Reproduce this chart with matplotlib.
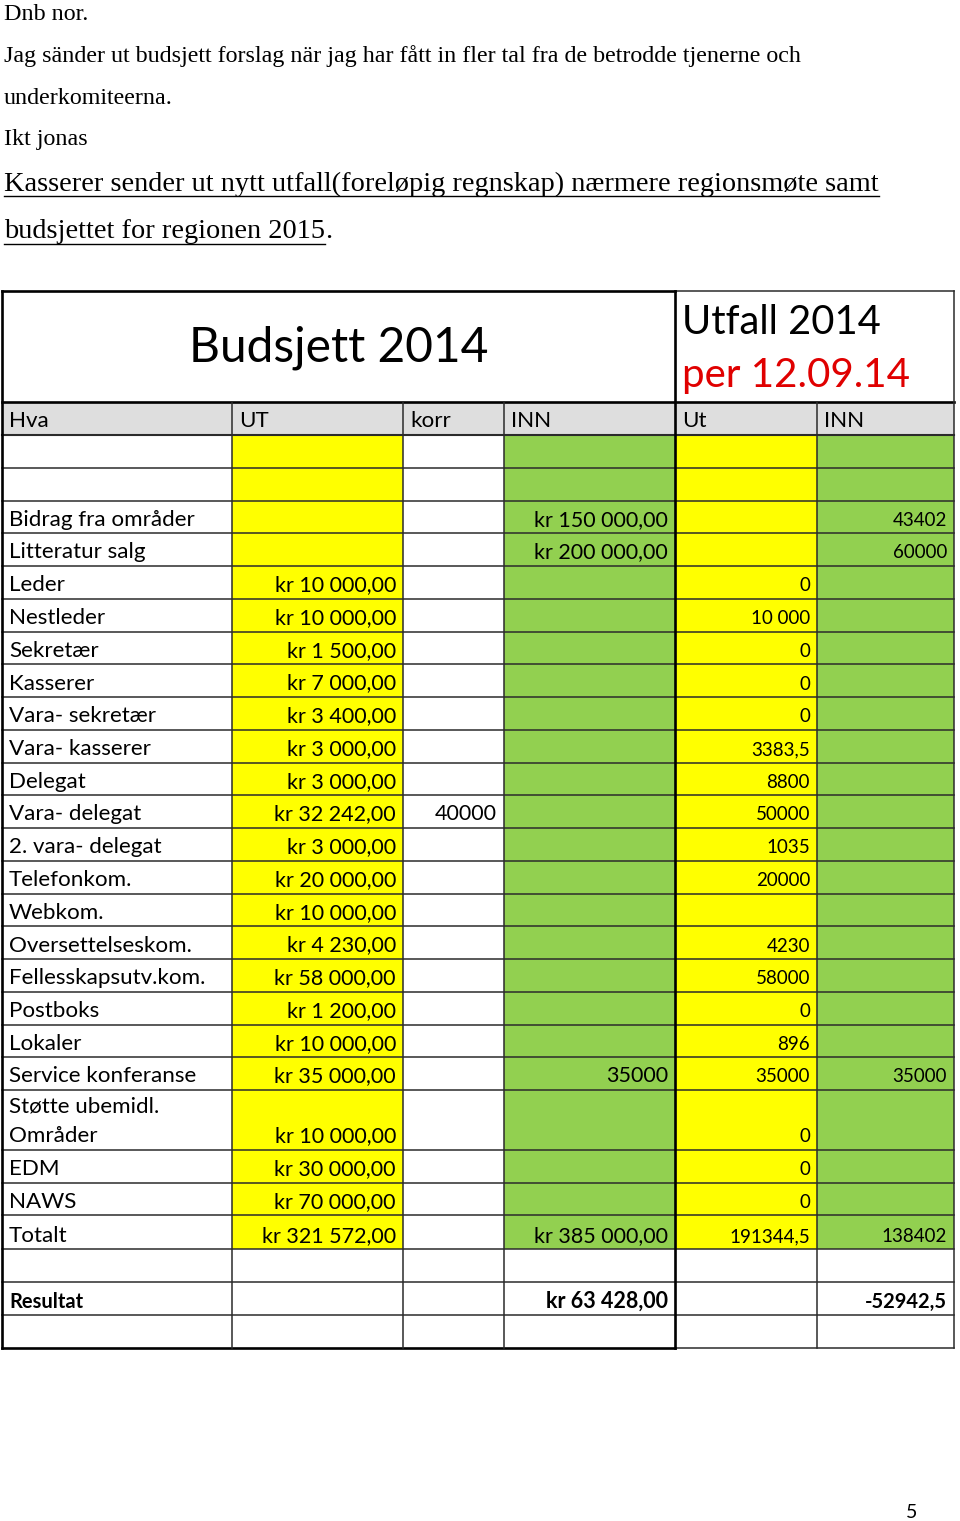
import matplotlib
matplotlib.use("Agg")
import matplotlib.pyplot as plt
from matplotlib.patches import Rectangle

# letter text above the table
intro = ["Dnb nor.",
         "Jag sänder ut budsjett forslag när jag har fått in fler tal fra de betrodde tjenerne och",
         "underkomiteerna.",
         "Ikt jonas"]
underlined = ["Kasserer sender ut nytt utfall(foreløpig regnskap) nærmere regionsmøte samt",
              "budsjettet for regionen 2015"]

title_left = "Budsjett 2014"
title_right = "Utfall 2014"
title_date = "per 12.09.14"
headers = ["Hva", "UT", "korr", "INN", "Ut", "INN"]

hva = ["", "", "Bidrag fra områder", "Litteratur salg", "Leder", "Nestleder", "Sekretær",
       "Kasserer", "Vara- sekretær", "Vara- kasserer", "Delegat", "Vara- delegat",
       "2. vara- delegat", "Telefonkom.", "Webkom.", "Oversettelseskom.",
       "Fellesskapsutv.kom.", "Postboks", "Lokaler", "Service konferanse",
       "Støtte ubemidl.\nOmråder", "EDM", "NAWS", "Totalt"]
ut = ["", "", "", "", "kr 10 000,00", "kr 10 000,00", "kr 1 500,00", "kr 7 000,00",
      "kr 3 400,00", "kr 3 000,00", "kr 3 000,00", "kr 32 242,00", "kr 3 000,00",
      "kr 20 000,00", "kr 10 000,00", "kr 4 230,00", "kr 58 000,00", "kr 1 200,00",
      "kr 10 000,00", "kr 35 000,00", "kr 10 000,00", "kr 30 000,00", "kr 70 000,00",
      "kr 321 572,00"]
korr = [""] * 11 + ["40000"] + [""] * 12
inn = ["", "", "kr 150 000,00", "kr 200 000,00"] + [""] * 15 + ["35000", "", "", "",
                                                               "kr 385 000,00"]
utfall_ut = ["", "", "", "", "0", "10 000", "0", "0", "0", "3383,5", "8800", "50000",
             "1035", "20000", "", "4230", "58000", "0", "896", "35000", "0", "0", "0",
             "191344,5"]
utfall_inn = ["", "", "43402", "60000"] + [""] * 15 + ["35000", "", "", "", "138402"]
resultat_label = "Resultat"
resultat_inn = "kr 63 428,00"
resultat_utfall = "-52942,5"
page_no = "5"

YELLOW = "#ffff00"
GREEN = "#92d050"
GREY = "#dedede"
LINE = "#2b2b2b"
SANS = "Lato"
SERIF = "Liberation Serif"

fig = plt.figure(figsize=(9.6, 15.21), dpi=100)
ax = fig.add_axes([0, 0, 1, 1])
ax.set_xlim(0, 960)
ax.set_ylim(1521, 0)
ax.axis("off")

# letter lines
ys = [15, 56, 99, 140]
for t, y in zip(intro, ys):
    ax.text(4, y, t, fontsize=17.3, family=SERIF, va="center", ha="left")

renderer = fig.canvas.get_renderer()
for t, y, tail in zip(underlined, [184, 232], ["", "."]):
    txt = ax.text(4, y, t, fontsize=20.4, family=SERIF, va="center", ha="left")
    bb = txt.get_window_extent(renderer).transformed(ax.transData.inverted())
    x1 = bb.x1
    ax.plot([4, x1], [y + 12, y + 12], color="black", lw=1.0)
    if tail:
        ax.text(x1, y, tail, fontsize=20.4, family=SERIF, va="center", ha="left")

# table geometry
xs = [2, 232, 403, 504, 675, 817, 954]
fills = ["white", YELLOW, "white", GREEN, YELLOW, GREEN]
top, head_top, body_top = 291, 402, 435
unit = 32.75
heights = [unit * 1.83 if "\n" in h else unit for h in hva]
heights[-1] = 34
edges = [body_top]
for h in heights:
    edges.append(edges[-1] + h)
extra = [edges[-1]]
for _ in range(3):
    extra.append(extra[-1] + 32.8)

LAB = 16.1   # label size
NUM = 15.5   # budget numbers
SML = 13.5   # utfall numbers

# header row fill
ax.add_patch(Rectangle((xs[0], head_top), xs[-1] - xs[0], body_top - head_top,
                       facecolor=GREY, edgecolor="none"))
for i, h in enumerate(headers):
    ax.text(xs[i] + 7, body_top - 8, h, fontsize=LAB, family=SANS, va="baseline")

# body fills
for r in range(len(hva)):
    for c in range(6):
        ax.add_patch(Rectangle((xs[c], edges[r]), xs[c + 1] - xs[c], edges[r + 1] - edges[r],
                               facecolor=fills[c], edgecolor="none"))

# body text
for r in range(len(hva)):
    base = edges[r + 1] - 7.5
    if "\n" in hva[r]:
        a, b = hva[r].split("\n")
        ax.text(xs[0] + 7, base - 30, a, fontsize=LAB, family=SANS, va="baseline")
        ax.text(xs[0] + 7, base, b, fontsize=LAB, family=SANS, va="baseline")
    else:
        ax.text(xs[0] + 7, base, hva[r], fontsize=LAB, family=SANS, va="baseline")
    for c, col, fs in [(1, ut, NUM), (2, korr, NUM), (3, inn, NUM),
                       (4, utfall_ut, SML), (5, utfall_inn, SML)]:
        ax.text(xs[c + 1] - 7, base, col[r], fontsize=fs, family=SANS,
                va="baseline", ha="right")

# resultat rows
base = extra[2] - 7.5
ax.text(xs[0] + 7, base, resultat_label, fontsize=14.5, family=SANS, weight="bold",
        va="baseline")
ax.text(xs[4] - 7, base, resultat_inn, fontsize=NUM, family=SANS, weight="bold",
        va="baseline", ha="right")
ax.text(xs[6] - 7, base, resultat_utfall, fontsize=14.5, family=SANS, weight="bold",
        va="baseline", ha="right")

# titles
ax.text((xs[0] + xs[4]) / 2, 348, title_left, fontsize=34.5,
        family=SANS, ha="center", va="center")
ax.text(xs[4] + 7, 322, title_right, fontsize=28.7, family=SANS, va="center")
ax.text(xs[4] + 7, 376, title_date, fontsize=29, family=SANS, va="center",
        color="#e00000")

# grid lines
bottom = extra[-1]
thin, thick = 1.1, 1.9
for y in edges[:-1] + extra[:-1]:
    if y == body_top:
        continue
    ax.plot([xs[0], xs[-1]], [y, y], color=LINE, lw=thin)
ax.plot([xs[0], xs[-1]], [body_top, body_top], color=LINE, lw=1.5)
ax.plot([xs[0], xs[-1]], [head_top, head_top], color="black", lw=thick)
ax.plot([xs[0], xs[4]], [top, top], color="black", lw=thick)
ax.plot([xs[4], xs[-1]], [top, top], color=LINE, lw=thin)
ax.plot([xs[0], xs[4]], [bottom, bottom], color="black", lw=thick)
ax.plot([xs[4], xs[-1]], [bottom, bottom], color=LINE, lw=thin)
for i, x in enumerate(xs):
    if i in (0, 4):
        ax.plot([x, x], [top, bottom], color="black", lw=thick)
    elif i == 6:
        ax.plot([x, x], [top, bottom], color=LINE, lw=thin)
    else:
        ax.plot([x, x], [head_top, bottom], color=LINE, lw=thin)

ax.text(912, 1512, page_no, fontsize=14, family=SANS, ha="center", va="center")

fig.savefig("out.png", dpi=100)
